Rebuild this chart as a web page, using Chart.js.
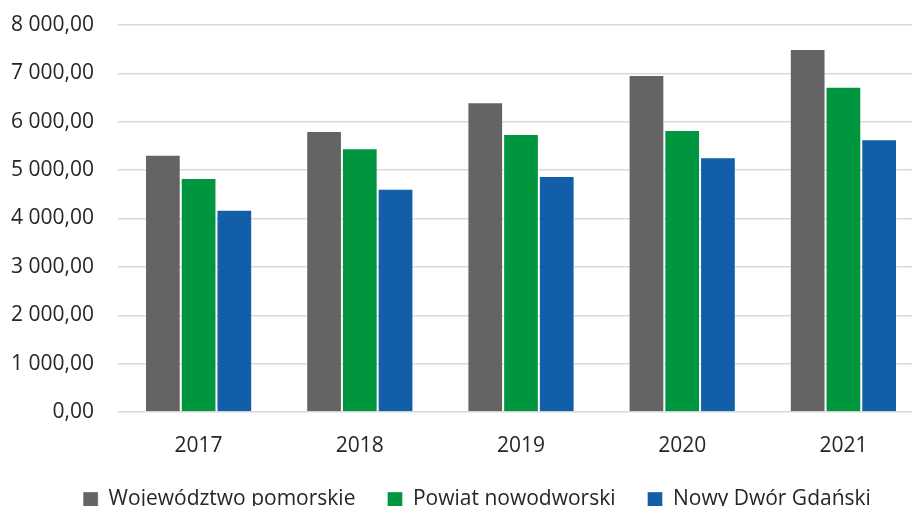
<!DOCTYPE html>
<html>
<head>
<meta charset="utf-8">
<script src="https://cdn.jsdelivr.net/npm/chart.js@4/dist/chart.umd.min.js"></script>
<style>
    body { margin: 0; overflow: hidden; background: #fff; }
    #wrap { width: 924px; height: 520px; }
</style>
</head>
<body>
<div id="wrap"><canvas id="chart"></canvas></div>
<script>
const years = ['2017', '2018', '2019', '2020', '2021'];
const seriesNames = ['Województwo pomorskie', 'Powiat nowodworski', 'Nowy Dwór Gdański'];
const pomorskie = [5320, 5810, 6404, 6964, 7503];
const nowodworski = [4835, 5451, 5748, 5830, 6725];
const nowyDwor = [4180, 4615, 4877, 5264, 5637];
const seriesColors = ['#646464', '#009640', '#125ea8'];

// 8000 -> "8 000,00"
function formatPl(v) {
    const parts = v.toFixed(2).split('.');
    const intPart = parts[0].replace(/\B(?=(\d{3})+(?!\d))/g, ' ');
    return intPart + ',' + parts[1];
}

// legend sits a bit right of the canvas centre in the original
const legendShift = {
    id: 'legendShift',
    afterLayout(chart) {
        chart.legend.left += 15;
        chart.legend.right += 15;
    }
};

const font = { family: '"Open Sans", "Noto Sans", sans-serif', size: 21 };

new Chart(document.getElementById('chart'), {
    type: 'bar',
    data: {
        labels: years,
        datasets: [pomorskie, nowodworski, nowyDwor].map((data, i) => ({
            label: seriesNames[i],
            data: data,
            backgroundColor: seriesColors[i],
            borderColor: 'rgba(255,255,255,0.35)',
            borderWidth: 1,
            barPercentage: 1.0,
            categoryPercentage: 0.665
        }))
    },
    options: {
        responsive: true,
        maintainAspectRatio: false,
        animation: false,
        layout: { padding: { top: 25, left: 0, right: 0, bottom: 0 } },
        plugins: {
            tooltip: { enabled: false },
            legend: {
                position: 'bottom',
                labels: {
                    font: font,
                    color: '#262626',
                    boxWidth: 15,
                    boxHeight: 15,
                    padding: 32
                }
            }
        },
        scales: {
            x: {
                afterFit(scale) { scale.height = 45; },
                grid: { display: false },
                border: { display: false },
                ticks: { font: font, color: '#262626', padding: 13 }
            },
            y: {
                min: 0,
                max: 8000,
                afterFit(scale) {
                    scale.width = 118;
                    scale.paddingTop = 0;
                    scale.paddingBottom = 0;
                },
                grid: { color: '#d9d9d9', lineWidth: 1.5, drawTicks: false },
                border: { display: false },
                ticks: {
                    stepSize: 1000,
                    font: font,
                    color: '#262626',
                    padding: 24,
                    callback: v => formatPl(v)
                }
            }
        }
    },
    plugins: [legendShift]
});
</script>
</body>
</html>
